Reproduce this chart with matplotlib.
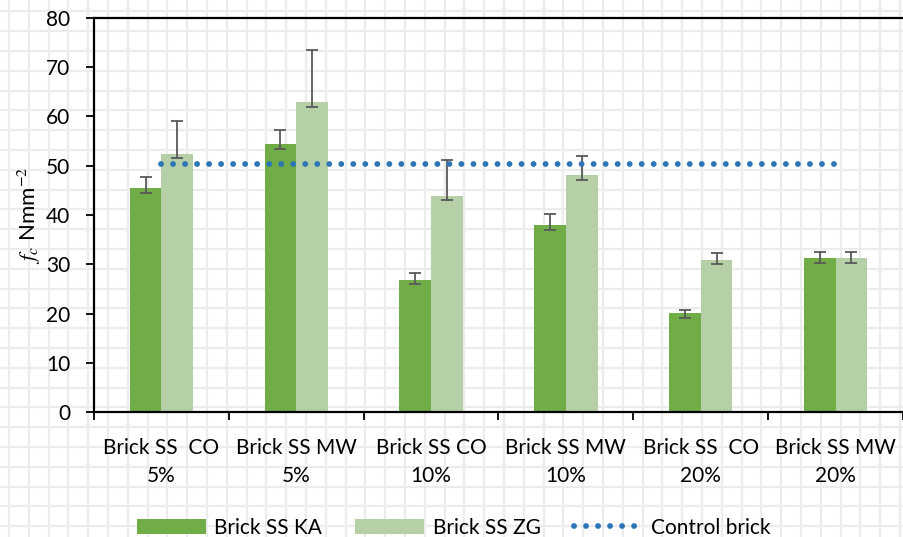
import matplotlib
matplotlib.use('Agg')
import matplotlib.pyplot as plt
import numpy as np

plt.rcParams['font.family'] = ['Lato', 'DejaVu Sans']
plt.rcParams['mathtext.fontset'] = 'stix'

# compressive strength of the brick mixes
groups = ['Brick SS  CO\n5%', 'Brick SS MW\n5%', 'Brick SS CO\n10%',
          'Brick SS MW\n10%', 'Brick SS  CO\n20%', 'Brick SS MW\n20%']
ka = [45.4, 54.4, 26.8, 37.9, 20.2, 31.3]
ka_lo = [0.9, 1.0, 0.9, 1.0, 1.1, 1.0]
ka_hi = [2.4, 2.9, 1.4, 2.3, 0.5, 1.1]
zg = [52.4, 62.9, 43.9, 48.1, 30.9, 31.3]
zg_lo = [0.9, 1.0, 0.9, 1.0, 0.9, 1.0]
zg_hi = [6.7, 10.6, 7.3, 3.8, 1.3, 1.1]
control = [50.4] * 6

W, H = 904, 537
fig = plt.figure(figsize=(W / 100, H / 100), dpi=100)

# squared paper behind the chart
bg = fig.add_axes([0, 0, 1, 1], zorder=-5)
bg.set_xlim(0, W)
bg.set_ylim(H, 0)
bg.axis('off')
bg.vlines(np.arange(8.9, W, 19.8), 0, H, color='#ececec', lw=1.6)
bg.hlines(np.arange(11.4, H, 19.8), 0, W, color='#ececec', lw=1.6)

ax = fig.add_axes([94 / W, 1 - 412 / H, 809 / W, 394 / H])
ax.set_facecolor('none')

x = np.arange(len(groups))
w = 0.235
ek = dict(ecolor='#595959', elinewidth=1.3, capsize=4.5, capthick=1.3)
b1 = ax.bar(x - w / 2, ka, w, color='#70ad47', label='Brick SS KA',
            yerr=[ka_lo, ka_hi], error_kw=ek, zorder=2)
b2 = ax.bar(x + w / 2, zg, w, color='#b5cfa6', label='Brick SS ZG',
            yerr=[zg_lo, zg_hi], error_kw=ek, zorder=2)
ln, = ax.plot(x, control, color='#2e75b6', lw=4.2, linestyle=(0, (0.01, 2.05)),
              dash_capstyle='round', label='Control brick', zorder=3)

ax.set_xlim(-0.5, 5.5)
ax.set_ylim(0, 80)
ax.set_yticks(range(0, 81, 10))
ax.set_xticks(np.arange(-0.5, 6, 1))
ax.set_xticklabels([])
ax.set_xticks(x, minor=True)
ax.set_xticklabels(groups, minor=True, linespacing=1.45)
ax.tick_params(axis='x', which='minor', length=0, pad=19, labelsize=15)
ax.tick_params(axis='x', which='major', length=6, width=1.3, direction='out')
ax.tick_params(axis='y', length=6, width=1.3, pad=11, labelsize=15)

for s in ['left', 'bottom', 'top']:
    ax.spines[s].set_linewidth(1.6)
ax.spines['right'].set_color('#888888')

ax.set_ylabel(r'$f_c$ Nmm$^{-2}$', fontsize=16, labelpad=2)

fig.legend([b1, b2, ln], ['Brick SS KA', 'Brick SS ZG', 'Control brick'],
           loc='lower center', bbox_to_anchor=(0.502, -0.036), ncol=3,
           frameon=False, fontsize=15, handlelength=3.3, handleheight=0.7,
           handletextpad=0.4, columnspacing=1.6)

fig.savefig('out.png', dpi=100)
